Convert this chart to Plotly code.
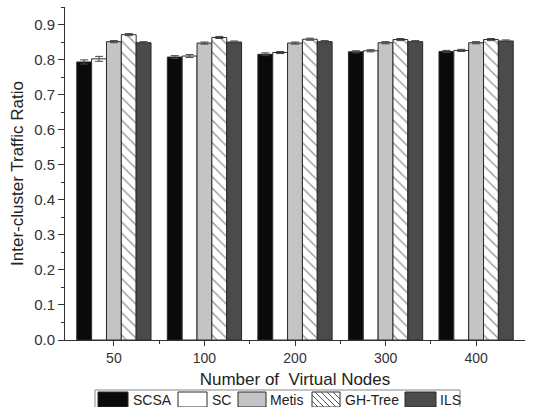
import plotly.graph_objects as go

# Virtual node counts on the x axis
categories = ["50", "100", "200", "300", "400"]

# Inter-cluster traffic ratio per algorithm
scsa = [0.794, 0.808, 0.816, 0.823, 0.824]
sc = [0.803, 0.811, 0.821, 0.826, 0.827]
metis = [0.852, 0.848, 0.848, 0.849, 0.849]
gh_tree = [0.872, 0.864, 0.859, 0.858, 0.858]
ils = [0.849, 0.851, 0.852, 0.852, 0.854]

# Standard deviation shown as error bars
scsa_err = [0.006, 0.004, 0.004, 0.003, 0.003]
sc_err = [0.007, 0.004, 0.003, 0.003, 0.003]
metis_err = [0.003, 0.003, 0.003, 0.003, 0.003]
gh_err = [0.003, 0.003, 0.003, 0.003, 0.003]
ils_err = [0.003, 0.003, 0.003, 0.003, 0.003]

y_ticks = [0.0, 0.1, 0.2, 0.3, 0.4, 0.5, 0.6, 0.7, 0.8, 0.9]

W, H = 533, 407
ML, MR, MT, MB = 65, 8, 7, 67
PW, PH = W - ML - MR, H - MT - MB
FONT = "Liberation Sans, Arial"

xpos = list(range(len(categories)))

series = [
    ("SCSA", scsa, scsa_err, dict(color="#0a0a0a")),
    ("SC", sc, sc_err, dict(color="#ffffff")),
    ("Metis", metis, metis_err, dict(color="#c4c4c4")),
    ("GH-Tree", gh_tree, gh_err, dict(color="#ffffff",
                                       pattern=dict(shape="\\", fgcolor="#333333",
                                                    bgcolor="#ffffff", size=8,
                                                    solidity=0.18))),
    ("ILS", ils, ils_err, dict(color="#4b4b4b")),
]

fig = go.Figure()
for name, vals, errs, marker in series:
    marker = dict(marker, line=dict(color="#2a2a2a", width=1))
    fig.add_trace(go.Bar(
        name=name, x=xpos, y=vals, marker=marker,
        error_y=dict(type="data", array=errs, color="#444444", thickness=1, width=4),
        showlegend=False,
    ))


def px_x(p):
    return (p - ML) / PW


def px_y(p):
    return (H - MB - p) / PH


shapes = []
annotations = []

# Legend row below the axis title
legend_items = [
    ("SCSA", 98, 128, 132, "#0a0a0a"),
    ("SC", 178, 207, 211, "#ffffff"),
    ("Metis", 238, 266, 269, "#c4c4c4"),
    ("GH-Tree", 312, 340, 344, "#ffffff"),
    ("ILS", 405, 436, 439, "#4b4b4b"),
]
y0, y1 = 392, 407
shapes.append(dict(type="rect", xref="paper", yref="paper",
                   x0=px_x(95), x1=px_x(460), y0=px_y(409), y1=px_y(390),
                   line=dict(color="#888888", width=1), fillcolor="rgba(0,0,0,0)"))
for label, sx0, sx1, tx, col in legend_items:
    shapes.append(dict(type="rect", xref="paper", yref="paper",
                       x0=px_x(sx0), x1=px_x(sx1), y0=px_y(y1), y1=px_y(y0),
                       line=dict(color="#2a2a2a", width=1), fillcolor=col))
    if label == "GH-Tree":
        # diagonal hatch inside the swatch
        step = 6
        h = y1 - y0
        start = sx0 - h
        while start < sx1:
            ax0, ay0 = start, y0
            ax1, ay1 = start + h, y1
            if ax0 < sx0:
                ay0 = y0 + (sx0 - ax0)
                ax0 = sx0
            if ax1 > sx1:
                ay1 = y1 - (ax1 - sx1)
                ax1 = sx1
            if ax1 > ax0:
                shapes.append(dict(type="line", xref="paper", yref="paper",
                                   x0=px_x(ax0), y0=px_y(ay0), x1=px_x(ax1), y1=px_y(ay1),
                                   line=dict(color="#555555", width=1)))
            start += step
    annotations.append(dict(text=label, xref="paper", yref="paper",
                            x=px_x(tx), y=px_y(400), xanchor="left", yanchor="middle",
                            showarrow=False, borderpad=0,
                            font=dict(family=FONT, size=14, color="#222222")))

fig.update_layout(
    width=W, height=H,
    margin=dict(l=ML, r=MR, t=MT, b=MB),
    paper_bgcolor="white", plot_bgcolor="white",
    barmode="group", bargap=0.18, bargroupgap=0,
    font=dict(family=FONT, size=14, color="#222222"),
    shapes=shapes, annotations=annotations,
    xaxis=dict(
        range=[-0.54, 4.54], tickvals=xpos, ticktext=categories,
        showline=True, linecolor="#333333", linewidth=1,
        ticks="outside", ticklen=5, tickcolor="#333333",
        minor=dict(tickvals=[0.5, 1.5, 2.5, 3.5], ticks="outside", ticklen=3,
                   tickcolor="#333333"),
        showgrid=False, zeroline=False,
        tickfont=dict(size=14, color="#333333"),
        title=dict(text="Number of  Virtual Nodes", standoff=8,
                   font=dict(size=17, color="#222222")),
    ),
    yaxis=dict(
        range=[0, 0.951], tickvals=y_ticks, ticktext=[f"{v:.1f}" for v in y_ticks],
        showline=True, linecolor="#333333", linewidth=1,
        ticks="outside", ticklen=6, tickcolor="#333333",
        minor=dict(dtick=0.05, ticks="outside", ticklen=3, tickcolor="#333333"),
        showgrid=False, zeroline=False,
        tickfont=dict(size=15, color="#333333"),
        title=dict(text="Inter-cluster Traffic Ratio", standoff=6,
                   font=dict(size=17, color="#222222")),
    ),
)

fig.write_html("out.html")
